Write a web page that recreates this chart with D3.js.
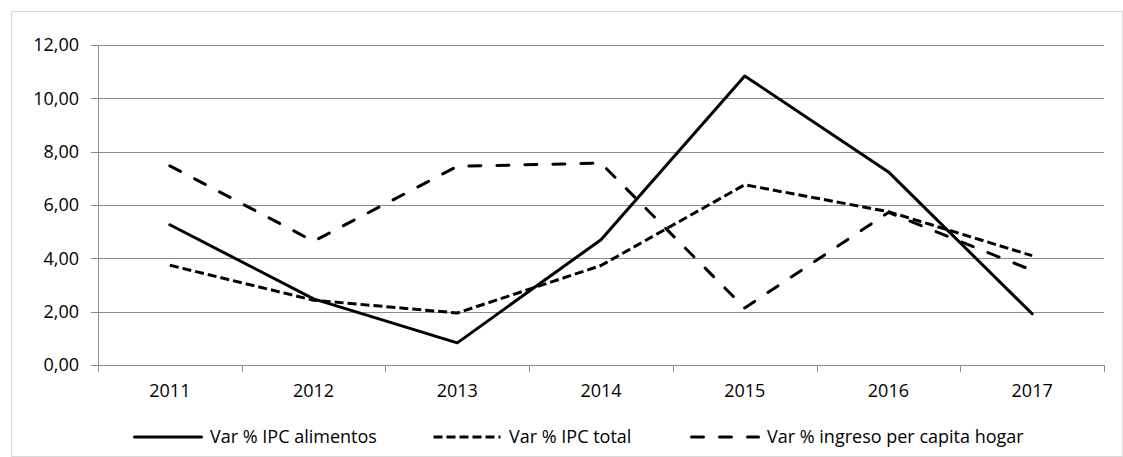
<!DOCTYPE html>
<html>
<head>
<meta charset="utf-8">
<script src="https://cdn.jsdelivr.net/npm/d3@7"></script>
<style>
  body { margin: 0; background: #fff; }
  text { font-family: "Open Sans", sans-serif; fill: #000; }
</style>
</head>
<body>
<div id="chart"></div>
<script>
const years = ["2011", "2012", "2013", "2014", "2015", "2016", "2017"];
const ipcAlimentos = [5.26, 2.48, 0.83, 4.70, 10.84, 7.24, 1.92];
const ipcTotal = [3.74, 2.43, 1.95, 3.73, 6.76, 5.75, 4.10];
const ingresoHogar = [7.47, 4.64, 7.45, 7.57, 2.14, 5.72, 3.55];
const yTicks = [0, 2, 4, 6, 8, 10, 12];

const series = [
    {name: "Var % IPC alimentos", values: ipcAlimentos, dash: null, cap: "round"},
    {name: "Var % IPC total", values: ipcTotal, dash: "9,4", cap: "butt"},
    {name: "Var % ingreso per capita hogar", values: ingresoHogar, dash: "12,16", cap: "round"}
];

const width = 1123, height = 457;
const margin = {left: 98, right: 19, top: 45, bottom: 92};
const fontSize = "18px";

const svg = d3.select("#chart").append("svg")
    .attr("width", width)
    .attr("height", height);

// outer chart border
svg.append("rect")
    .attr("x", 11.5).attr("y", 11.5)
    .attr("width", width - 12).attr("height", height - 12)
    .attr("fill", "none")
    .attr("stroke", "#d9d9d9");

const x = d3.scaleBand().domain(years).range([margin.left, width - margin.right]);
const y = d3.scaleLinear().domain([0, 12]).range([height - margin.bottom, margin.top]);

// gridlines
svg.append("g").selectAll("line")
    .data(yTicks)
    .enter().append("line")
    .attr("x1", margin.left - 7)
    .attr("x2", width - margin.right)
    .attr("y1", d => Math.round(y(d)) + 0.5)
    .attr("y2", d => Math.round(y(d)) + 0.5)
    .attr("stroke", "#8c8c8c");

// y axis line
svg.append("line")
    .attr("x1", margin.left + 0.5).attr("x2", margin.left + 0.5)
    .attr("y1", y(12)).attr("y2", y(0))
    .attr("stroke", "#8c8c8c");

// x tick marks at band edges
const edges = years.map(d => x(d)).concat([x(years[years.length - 1]) + x.bandwidth()]);
svg.append("g").selectAll("line")
    .data(edges)
    .enter().append("line")
    .attr("x1", d => Math.round(d) + 0.5)
    .attr("x2", d => Math.round(d) + 0.5)
    .attr("y1", y(0))
    .attr("y2", y(0) + 7)
    .attr("stroke", "#8c8c8c");

// y labels
svg.append("g").selectAll("text")
    .data(yTicks)
    .enter().append("text")
    .attr("x", margin.left - 19)
    .attr("y", d => y(d))
    .attr("dy", "0.35em")
    .attr("text-anchor", "end")
    .style("font-size", fontSize)
    .text(d => d3.format(".2f")(d).replace(".", ","));

// x labels
svg.append("g").selectAll("text")
    .data(years)
    .enter().append("text")
    .attr("x", d => x(d) + x.bandwidth() / 2)
    .attr("y", y(0) + 32)
    .attr("text-anchor", "middle")
    .style("font-size", fontSize)
    .text(d => d);

const line = d3.line()
    .x((d, i) => x(years[i]) + x.bandwidth() / 2)
    .y(d => y(d));

svg.append("g").selectAll("path")
    .data(series)
    .enter().append("path")
    .attr("d", d => line(d.values))
    .attr("fill", "none")
    .attr("stroke", "#000")
    .attr("stroke-width", 3)
    .attr("stroke-linejoin", "round")
    .attr("stroke-linecap", d => d.cap)
    .attr("stroke-dasharray", d => d.dash);

// legend
const legendX = [133, 432, 690];
const legend = svg.append("g").selectAll("g")
    .data(series)
    .enter().append("g")
    .attr("transform", (d, i) => "translate(" + legendX[i] + ",437)");

legend.append("line")
    .attr("x1", 1.5).attr("x2", 68.5)
    .attr("stroke", "#000")
    .attr("stroke-width", 3)
    .attr("stroke-linecap", d => d.cap)
    .attr("stroke-dasharray", d => d.dash);

legend.append("text")
    .attr("x", 77)
    .attr("dy", "0.35em")
    .style("font-size", fontSize)
    .text(d => d.name);
</script>
</body>
</html>
